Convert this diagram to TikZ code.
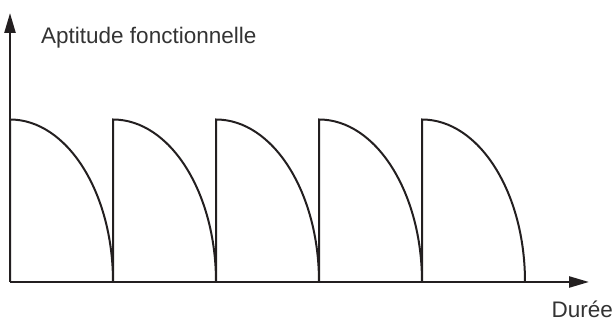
\documentclass[tikz,border=0pt]{standalone}
\usepackage{fontspec}
\setmainfont{Liberation Sans}
\usetikzlibrary{arrows.meta}
\definecolor{ink}{HTML}{231F20}
\definecolor{lbl}{HTML}{333333}
\begin{document}
\begin{tikzpicture}[x=1pt,y=1pt,axe/.style={draw=ink,line width=2.4pt,-{Triangle[length=20pt,width=11pt]}},courbe/.style={draw=ink,line width=2pt,line join=miter},lab/.style={text=lbl,font=\fontsize{22.5}{27}\selectfont,inner sep=0pt,anchor=base west}]
\useasboundingbox(0,0)rectangle(616,323);
\coordinate(o)at(10,41);\coordinate(yh)at(10,310);\coordinate(xd)at(589,41);
\node[lab](ya)at(41,279){Aptitude fonctionnelle};\node[lab](xa)at(551.5,5){Durée};
\foreach \i in {0,...,4}{\coordinate(c\i)at(10+103*\i,41);\draw[courbe](c\i)--++(0,162.5)arc[start angle=90,end angle=0,x radius=103,y radius=162.5];}
\draw[axe](o)--(yh);\draw[axe](o)--(xd);
\end{tikzpicture}
\end{document}
